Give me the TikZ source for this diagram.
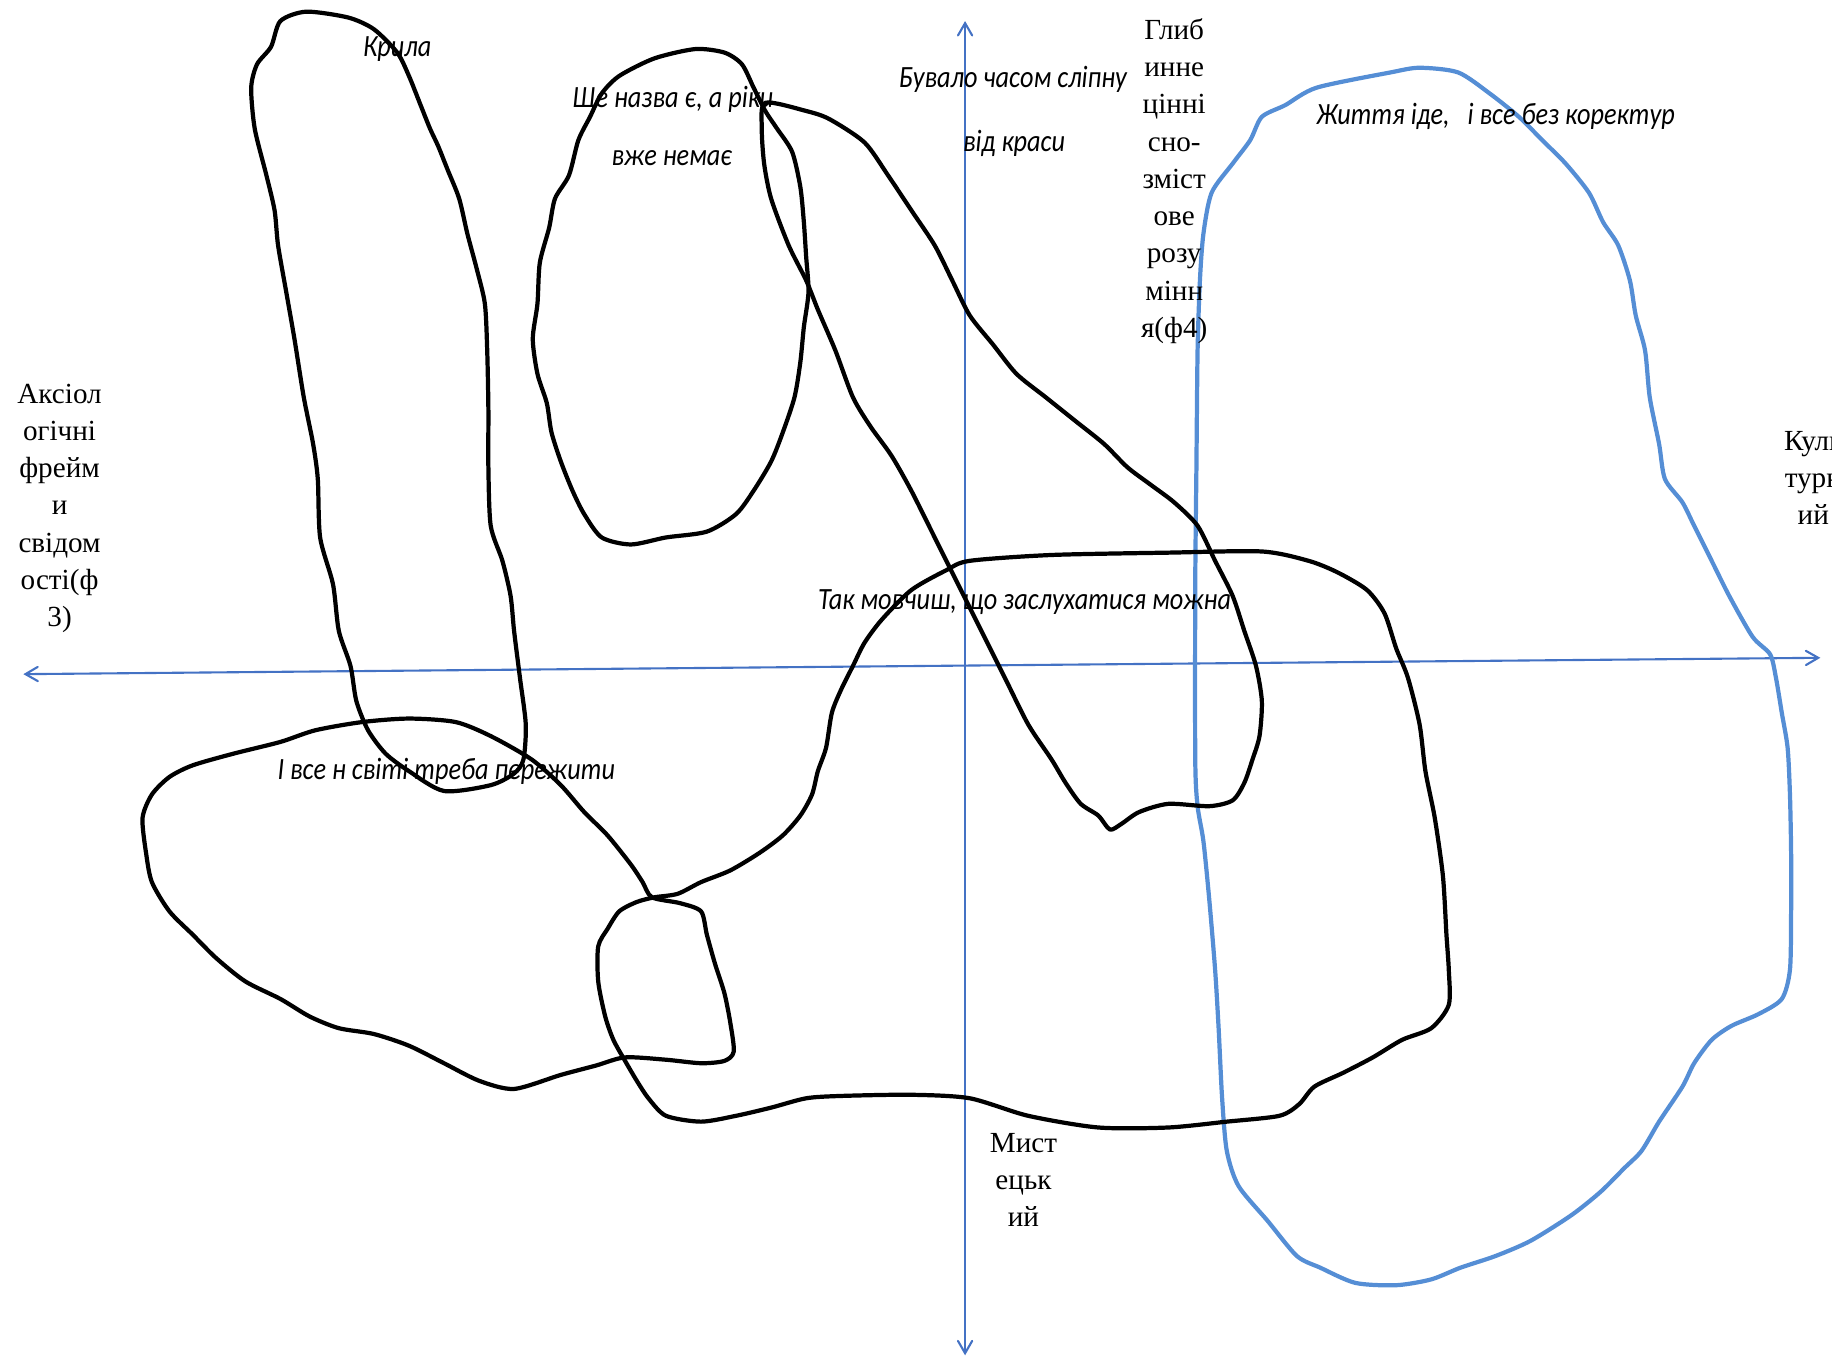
\documentclass[tikz,border=0pt]{standalone}
\usepackage{fontspec}
\setmainfont{Liberation Serif}
\newfontfamily\handfont[FakeStretch=0.85]{Carlito}
\usetikzlibrary{arrows,positioning}

\definecolor{axisblue}{RGB}{68,114,196}
\definecolor{loopblue}{RGB}{85,142,213}

\begin{document}
\begin{tikzpicture}[x=0.011684cm, y=-0.011684cm, >=angle 60]

\tikzstyle{axis}=[draw=axisblue, line width=0.6pt, <->]
\tikzstyle{blob}=[draw=black, line width=1.2pt, line join=round]
\tikzstyle{blueblob}=[draw=loopblue, line width=1.2pt, line join=round]
\tikzstyle{handtext}=[inner sep=0pt, font=\handfont\itshape\fontsize{8.8}{10.5}\selectfont]
\tikzstyle{axislabel}=[inner sep=0pt, align=center, font=\fontsize{8.3}{10.6}\selectfont]

\useasboundingbox (0,0) rectangle (1568,1170);

% axes
\coordinate (W) at (20,577);
\coordinate (E) at (1558,563);
\coordinate (N) at (826,18);
\coordinate (S) at (826,1160);
\draw[axis] (W) -- (E);
\draw[axis] (N) -- (S);

% blue loop
\draw[blueblob] plot[smooth cycle, tension=0.45] coordinates {
(1127,75) (1190,62) (1215,58) (1248,62) (1275,80) (1300,100) (1320,120)
(1340,140) (1360,165) (1372,190) (1385,210) (1395,240) (1400,270)
(1408,300) (1412,340) (1420,380) (1425,410) (1440,430) (1450,450)
(1465,480) (1480,510) (1500,545) (1515,560) (1520,580) (1525,610)
(1530,640) (1532,680) (1533,730) (1533,780) (1532,830) (1525,855)
(1505,868) (1482,878) (1465,890) (1450,910) (1440,930) (1420,960)
(1405,985) (1390,1000) (1370,1020) (1345,1040) (1310,1062) (1280,1075)
(1250,1085) (1225,1095) (1195,1100) (1160,1098) (1130,1085) (1110,1075)
(1085,1045) (1060,1015) (1050,985) (1046,940) (1043,880) (1040,830)
(1035,770) (1030,720) (1025,690) (1023,650) (1023,500) (1024,400)
(1025,300) (1027,240) (1030,200) (1037,165) (1055,140) (1070,120)
(1080,100) (1100,90)};

% wings
\draw[blob] plot[smooth cycle, tension=0.45] coordinates {
(262,10) (240,18) (232,40) (220,55) (215,75) (218,110) (228,150)
(235,180) (238,210) (245,250) (252,290) (260,340) (268,380) (272,410)
(274,460) (285,500) (290,540) (300,570) (305,600) (315,625) (330,645)
(350,660) (380,677) (420,672) (440,662) (448,650) (450,620) (445,580)
(440,540) (437,510) (430,480) (420,450) (418,400) (418,350) (417,300)
(415,260) (408,230) (400,200) (393,170) (383,145) (375,125) (368,110)
(360,90) (350,65) (340,45) (320,25) (298,15)};

% river oval
\draw[blob] plot[smooth cycle, tension=0.45] coordinates {
(595,42) (560,50) (530,65) (515,80) (505,100) (495,120) (487,150)
(475,170) (470,195) (462,225) (460,260) (456,290) (460,320) (468,345)
(472,370) (480,395) (490,420) (500,440) (515,460) (540,466) (570,460)
(605,455) (630,440) (645,420) (660,395) (670,370) (680,340) (685,310)
(688,280) (692,250) (690,220) (688,190) (685,160) (678,130) (665,110)
(655,95) (645,75) (635,55) (620,45)};

% long diagonal loop
\draw[blob] plot[smooth cycle, tension=0.45] coordinates {
(655,88) (690,95) (710,102) (740,122) (760,150) (780,180) (800,210)
(815,240) (830,270) (850,295) (870,320) (895,340) (920,360) (945,380)
(965,400) (985,415) (1005,430) (1025,450) (1040,480) (1055,510)
(1065,540) (1075,570) (1080,600) (1078,630) (1072,650) (1065,670)
(1055,685) (1035,690) (1000,688) (975,695) (960,705) (950,710)
(940,698) (925,688) (912,670) (900,650) (880,620) (860,580) (840,540)
(820,500) (800,460) (780,420) (763,390) (745,365) (730,340) (715,300)
(700,265) (690,240) (675,210) (660,170) (654,140) (652,110)};

% big lower loop
\draw[blob] plot[smooth cycle, tension=0.45] coordinates {
(830,480) (900,475) (1000,473) (1080,472) (1120,480) (1145,490)
(1170,505) (1185,525) (1195,555) (1205,580) (1215,620) (1220,660)
(1228,700) (1235,750) (1238,800) (1240,830) (1240,860) (1225,880)
(1200,890) (1175,905) (1150,918) (1125,930) (1112,945) (1095,955)
(1050,960) (1000,965) (940,965) (880,955) (830,940) (780,937)
(720,938) (690,940) (660,948) (630,955) (600,960) (570,955) (555,940)
(545,925) (535,908) (525,890) (518,870) (512,840) (512,810) (520,795)
(530,780) (545,772) (560,768) (580,765) (600,755) (625,745) (650,730)
(670,715) (685,698) (695,680) (700,660) (707,640) (712,610) (720,590)
(730,570) (740,550) (755,530) (780,505) (810,488)};

% lower left loop
\draw[blob] plot[smooth cycle, tension=0.45] coordinates {
(535,905) (510,912) (480,920) (440,932) (410,925) (380,910) (350,895)
(320,885) (290,880) (265,870) (240,855) (210,840) (185,820) (165,800)
(145,780) (130,755) (125,730) (122,700) (130,680) (145,665) (165,655)
(200,645) (240,635) (270,625) (310,618) (350,615) (390,618) (420,630)
(455,650) (480,672) (500,695) (520,715) (540,740) (550,755) (558,768)
(582,773) (600,780) (605,800) (612,825) (620,850) (625,875) (628,900)
(620,908) (600,910) (570,907)};

% lines of verse
\node[handtext] (krylo) at (340,42) {Крила};
\node[handtext] (nazva) at (576,85) {Ще назва є, а ріки};
\node[handtext] (nemae) at (575,135) {вже немає};
\node[handtext] (buvalo) at (867,68) {Бувало часом сліпну};
\node[handtext] (krasa) at (868,123) {від краси};
\node[handtext] (zhyttia) at (1280,100) {Життя іде,~~~і все без коректур};
\node[handtext] (movchysh) at (877,515) {Так мовчиш, що заслухатися можна};
\node[handtext] (perezhyty) at (382,660) {І все н світі треба пережити};

% axis labels
\node[axislabel] (aksio) at (51,435) {Аксіол\\огічні\\фрейм\\и\\свідом\\ості(ф\\3)};
\node[axislabel] (glyb) at (1005,155) {Глиб\\инне\\цінні\\сно-\\зміст\\ове\\розу\\мінн\\я(ф4)};
\node[axislabel] (kult) at (1552,409) {Куль\\турн\\ий};
\node[axislabel] (myst) at (876,1010) {Мист\\ецьк\\ий};

\end{tikzpicture}
\end{document}
